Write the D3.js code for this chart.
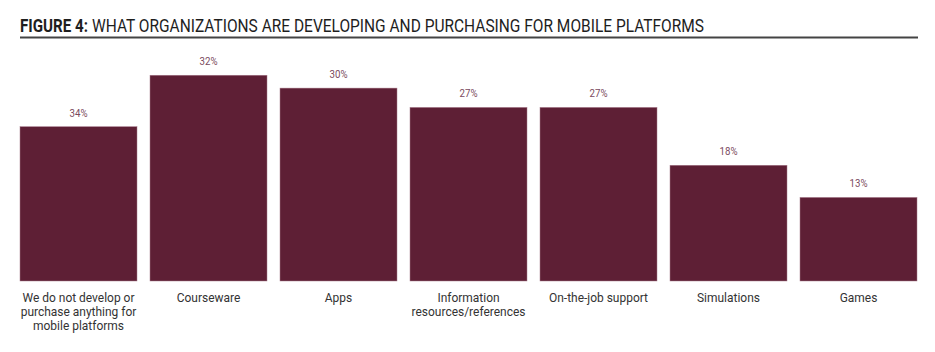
<!DOCTYPE html>
<html>
<head>
<meta charset="utf-8">
<script src="https://cdn.jsdelivr.net/npm/d3@7"></script>
<style>
  html, body { margin: 0; padding: 0; background: #fff; }
  svg { display: block; font-family: Roboto, "Noto Sans", sans-serif; }
</style>
</head>
<body>
<svg id="chart" width="935" height="352"></svg>
<script>
// ---- data ----
const categories = [
  ["We do not develop or", "purchase anything for", "mobile platforms"],
  ["Courseware"],
  ["Apps"],
  ["Information", "resources/references"],
  ["On-the-job support"],
  ["Simulations"],
  ["Games"]
];
// bar heights as drawn in the reference
const values = [24, 32, 30, 27, 27, 18, 13];
// value labels as printed in the reference (first bar is labelled 34%)
const valueLabels = ["34%", "32%", "30%", "27%", "27%", "18%", "13%"];
const titleBold = "FIGURE 4:";
const titleRest = "WHAT ORGANIZATIONS ARE DEVELOPING AND PURCHASING FOR MOBILE PLATFORMS";

const svg = d3.select("#chart");
const idx = d3.range(values.length);

const x = d3.scaleBand().domain(idx).range([13.5, 923.5]).paddingInner(0.1).paddingOuter(0.05);
const y = d3.scaleLinear().domain([0, 40]).range([281, 23.8]);

// title
svg.append("text").attr("x", 20).attr("y", 31.5)
  .attr("font-size", 17.5).attr("font-weight", 700).attr("fill", "#1e1e1e")
  .attr("textLength", 68).attr("lengthAdjust", "spacingAndGlyphs")
  .text(titleBold);
svg.append("text").attr("x", 92).attr("y", 31.5)
  .attr("font-size", 17.5).attr("font-weight", 400).attr("fill", "#1e1e1e")
  .attr("textLength", 612).attr("lengthAdjust", "spacingAndGlyphs")
  .text(titleRest);

svg.append("line").attr("x1", 20).attr("x2", 918).attr("y1", 37.5).attr("y2", 37.5)
  .attr("stroke", "#444").attr("stroke-width", 2);

// bars
svg.selectAll("rect.bar").data(idx).join("rect").attr("class", "bar")
  .attr("x", i => x(i)).attr("width", x.bandwidth())
  .attr("y", i => y(values[i])).attr("height", i => y(0) - y(values[i]))
  .attr("fill", "#5e1f35").attr("stroke", "#a77b8b").attr("stroke-width", 0.5);

// value labels
svg.selectAll("text.val").data(idx).join("text").attr("class", "val")
  .attr("x", i => x(i) + x.bandwidth() / 2)
  .attr("y", i => y(values[i]) - 10)
  .attr("text-anchor", "middle").attr("font-size", 11).attr("fill", "#7a4a5e")
  .text(i => valueLabels[i])
  .each(function () {
    const w = this.getComputedTextLength();
    d3.select(this).attr("textLength", w * 0.88).attr("lengthAdjust", "spacingAndGlyphs");
  });

// category labels
const cat = svg.selectAll("g.cat").data(idx).join("g").attr("class", "cat");
cat.each(function (i) {
  const g = d3.select(this);
  categories[i].forEach((line, k) => {
    const t = g.append("text")
      .attr("x", x(i) + x.bandwidth() / 2)
      .attr("y", 301.5 + k * 14.3)
      .attr("text-anchor", "middle").attr("font-size", 13.3).attr("fill", "#333")
      .text(line);
    const w = t.node().getComputedTextLength();
    t.attr("textLength", w * 0.9).attr("lengthAdjust", "spacingAndGlyphs");
  });
});
</script>
</body>
</html>
